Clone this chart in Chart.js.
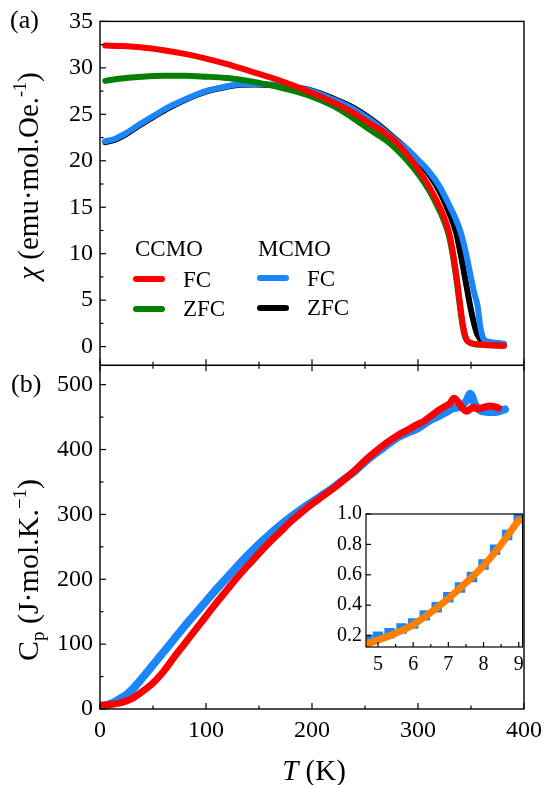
<!DOCTYPE html>
<html><head><meta charset="utf-8">
<script src="https://cdn.jsdelivr.net/npm/chart.js@4"></script>
<style>
html,body{margin:0;padding:0;background:#fff;}
#wrap{position:relative;width:549px;height:785px;overflow:hidden;}
#main{position:absolute;left:0;top:0;}
#inset{position:absolute;left:330px;top:498px;}
</style></head><body>
<div id="wrap"><canvas id="main" width="549" height="785"></canvas><canvas id="inset" width="200" height="180"></canvas></div>
<script>
// ---------- data: magnetic susceptibility (a) ----------
const T_CCMO = [5,20,40,60,80,100,120,140,160,180,200,220,240,255,270,280,290,300,310,318,324,329,333,337,340,342,344,346,350,356,365,375,381];
const CHI_CCMO_FC = [32.4,32.35,32.2,31.9,31.5,31.0,30.4,29.7,29.0,28.2,27.3,26.3,25.1,24.0,22.9,21.9,20.6,19.1,17.3,15.6,14.1,12.4,10.1,7.0,4.3,2.6,1.4,0.75,0.4,0.25,0.18,0.12,0.1];
const CHI_CCMO_ZFC = [28.6,28.85,29.05,29.15,29.15,29.05,28.9,28.6,28.15,27.6,26.9,25.9,24.5,23.3,22.2,21.2,20.0,18.6,16.9,15.2,13.7,12.0,9.7,6.6,3.9,2.3,1.2,0.68,0.35,0.22,0.16,0.11,0.1];
const T_MCMO_FC = [5,15,25,37,50,65,80,100,115,130,146,160,177,200,220,240,262,280,290,300,310,320,330,335,340,345,349.5,353,356,359,362,366,370,376,381];
const CHI_MCMO_FC = [22.1,22.4,23.0,23.9,24.8,25.8,26.6,27.5,27.9,28.2,28.25,28.2,28.0,27.5,26.6,25.5,23.8,22.1,21.2,20.1,18.9,17.3,15.1,13.9,12.4,10.2,7.7,5.8,4.5,2.0,0.8,0.55,0.46,0.38,0.3];
const T_MCMO_ZFC = [5,15,25,37,50,65,80,100,115,130,146,160,177,200,220,240,262,280,290,300,310,320,328,335.7,340,345,348,351,354,356,360.5,366,375,381];
const CHI_MCMO_ZFC = [22.0,22.3,22.9,23.8,24.7,25.7,26.55,27.45,27.85,28.15,28.2,28.15,28.0,27.55,26.7,25.65,23.95,22.2,21.2,20.0,18.6,16.8,14.8,12.4,10.1,7.0,5.1,3.4,2.0,1.3,0.6,0.4,0.3,0.25];

// ---------- data: specific heat (b) ----------
const T_CP_CCMO = [2,10,20,30,40,50,60,70,80,90,100,110,120,130,140,150,160,170,180,190,200,210,220,230,240,250,260,270,280,290,300,305,310,315,320,325,330,334,337,340,343,346,349,352,356,360,364,368,372,376];
const CP_CCMO = [6,7,10,16,27,40,58,80,101,122,143,164,184,204,222,240,257,273,289,303,316,328,340,353,367,383,397,410,421,430,439,443,449,455,461,466,471,479,475,468,462,459,462,465,463,464,466,467,466,464];
const T_CP_MCMO = [2,10,18,25,31,40,50,60,70,80,90,100,110,120,130,140,150,160,170,180,190,200,210,220,230,240,250,260,270,280,290,300,310,320,326,332,338,343,346,349,351,353,356,360,366,373,378,382];
const CP_MCMO = [4,8,15,22,31,48,68,88,108,128,147,166,185,203,221,238,254,269,283,296,308,319,330,341,354,366,381,394,406,418,426,433,444,452,457,463,465,470,476,486,482,472,464,459,458,458,460,462];

// ---------- inset: low-T specific heat ----------
const INSET_T = [4.7,5.0,5.33,5.67,6.0,6.33,6.67,7.0,7.33,7.67,8.0,8.33,8.67,9.0];
const INSET_CP = [0.172,0.193,0.215,0.247,0.280,0.333,0.387,0.452,0.517,0.586,0.668,0.765,0.862,0.974];
const FIT_T = [4.66,5.0,5.5,6.0,6.5,7.0,7.5,8.0,8.5,9.0];
const FIT_CP = [0.144,0.17,0.215,0.272,0.352,0.445,0.548,0.66,0.8,0.96];

// ---------- ticks ----------
const X_MAJOR = [0,100,200,300,400];
const X_MINOR = [50,150,250,350];
const CHI_MAJOR = [0,5,10,15,20,25,30,35];
const CHI_MINOR = [2.5,7.5,12.5,17.5,22.5,27.5,32.5];
const CP_MAJOR = [0,100,200,300,400,500];
const CP_MINOR = [50,150,250,350,450];
const INSET_X_MAJOR = [5,6,7,8,9];
const INSET_X_MINOR = [5.5,6.5,7.5,8.5];
const INSET_Y_MAJOR = [0.2,0.4,0.6,0.8,1.0];

const RED = '#FF0000', GREEN = '#008000', BLUE = '#1A86FA', BLACK = '#000000', ORANGE = '#FF8000';
const FAM = '"Liberation Serif", "Times New Roman", serif';
const F = (s, st) => (st ? st + ' ' : '') + s + 'px ' + FAM;

Chart.defaults.font.family = FAM;
Chart.defaults.color = '#000';

const pts = (xs, ys) => xs.map((x, i) => ({x: x, y: ys[i]}));
function ds(xs, ys, color, axis, w, order) {
  return {data: pts(xs, ys), borderColor: color, backgroundColor: color, yAxisID: axis,
    borderWidth: w, pointRadius: 0, cubicInterpolationMode: 'monotone',
    borderCapStyle: 'round', borderJoinStyle: 'round', order: order};
}

function richText(ctx, parts, cx, cy, rot) {
  ctx.save();
  ctx.translate(cx, cy);
  if (rot) ctx.rotate(rot);
  let w = 0;
  parts.forEach(p => { ctx.font = p.f; p.w = ctx.measureText(p.t).width; w += p.w; });
  let x = -w / 2;
  ctx.textBaseline = 'alphabetic'; ctx.textAlign = 'left'; ctx.fillStyle = '#000';
  parts.forEach(p => { ctx.font = p.f; ctx.fillText(p.t, x, p.dy || 0); x += p.w; });
  ctx.restore();
}
function seg(ctx, x1, y1, x2, y2) { ctx.beginPath(); ctx.moveTo(x1, y1); ctx.lineTo(x2, y2); ctx.stroke(); }

const framePlugin = {
  id: 'frame',
  afterDatasetsDraw(chart) {
    const ctx = chart.ctx, a = chart.chartArea;
    const xs = chart.scales.x, yc = chart.scales.yChi, yp = chart.scales.yCp;
    const div = yc.bottom;
    ctx.save();
    ctx.strokeStyle = '#000'; ctx.lineWidth = 1.4; ctx.lineCap = 'butt';
    ctx.strokeRect(a.left, a.top, a.right - a.left, a.bottom - a.top);
    seg(ctx, a.left, div, a.right, div);
    ctx.lineWidth = 1.2;
    const MJ = 6, MN = 3.5;
    X_MAJOR.forEach(v => { const p = xs.getPixelForValue(v); seg(ctx, p, a.bottom, p, a.bottom - MJ); seg(ctx, p, div - MJ, p, div + MJ); });
    X_MINOR.forEach(v => { const p = xs.getPixelForValue(v); seg(ctx, p, a.bottom, p, a.bottom - MN); seg(ctx, p, div - MN, p, div + MN); });
    CHI_MAJOR.forEach(v => { const p = yc.getPixelForValue(v); seg(ctx, a.left, p, a.left + MJ, p); });
    CHI_MINOR.forEach(v => { const p = yc.getPixelForValue(v); seg(ctx, a.left, p, a.left + MN, p); });
    CP_MAJOR.forEach(v => { const p = yp.getPixelForValue(v); seg(ctx, a.left, p, a.left + MJ, p); });
    CP_MINOR.forEach(v => { const p = yp.getPixelForValue(v); seg(ctx, a.left, p, a.left + MN, p); });
    ctx.restore();
  },
  afterDraw(chart) {
    const ctx = chart.ctx;
    ctx.save();
    // panel labels
    ctx.fillStyle = '#000'; ctx.textAlign = 'left'; ctx.textBaseline = 'middle';
    ctx.font = F(26); ctx.fillText('(a)', 10, 21); ctx.fillText('(b)', 11, 385);
    // legend
    ctx.font = F(23);
    ctx.fillText('CCMO', 135, 250); ctx.fillText('MCMO', 258, 250);
    ctx.fillText('FC', 183, 281); ctx.fillText('ZFC', 183, 310);
    ctx.fillText('FC', 307, 280); ctx.fillText('ZFC', 307, 309);
    ctx.lineWidth = 6; ctx.lineCap = 'round';
    [[RED, 136, 162, 279], [GREEN, 136, 162, 309], [BLUE, 260, 286, 278], [BLACK, 260, 286, 308]].forEach(l => {
      ctx.strokeStyle = l[0]; seg(ctx, l[1], l[3], l[2], l[3]);
    });
    ctx.restore();
    // axis titles
    richText(ctx, [{t: 'χ', f: F(29, 'italic')}, {t: ' (emu·mol.Oe.', f: F(29)}, {t: '-1', f: F(18), dy: -12}, {t: ')', f: F(29)}], 38, 176, -Math.PI / 2);
    richText(ctx, [{t: 'C', f: F(30)}, {t: 'p', f: F(19), dy: 6}, {t: ' (J·mol.K.', f: F(30)}, {t: '−1', f: F(19), dy: -12}, {t: ')', f: F(30)}], 38, 570, -Math.PI / 2);
    richText(ctx, [{t: 'T', f: F(29, 'italic')}, {t: ' (K)', f: F(29)}], 314, 780, 0);
  }
};

const tickLabels = arr => (s => { s.ticks = arr.map(v => ({value: v})); });

new Chart(document.getElementById('main'), {
  type: 'line',
  data: {datasets: [
    ds(T_CCMO, CHI_CCMO_FC, RED, 'yChi', 6, 1),
    ds(T_CCMO, CHI_CCMO_ZFC, GREEN, 'yChi', 6, 2),
    ds(T_MCMO_FC, CHI_MCMO_FC, BLUE, 'yChi', 6, 3),
    ds(T_MCMO_ZFC, CHI_MCMO_ZFC, BLACK, 'yChi', 6, 4),
    ds(T_CP_CCMO, CP_CCMO, RED, 'yCp', 7, 1),
    ds(T_CP_MCMO, CP_MCMO, BLUE, 'yCp', 8, 2)
  ]},
  options: {
    responsive: false, animation: false, devicePixelRatio: 1,
    layout: {padding: {top: 20, right: 20, left: 0, bottom: 0}},
    plugins: {legend: {display: false}, tooltip: {enabled: false}},
    scales: {
      x: {type: 'linear', min: 0, max: 400, grid: {display: false, drawTicks: false}, border: {display: false},
        afterBuildTicks: tickLabels(X_MAJOR), afterFit: s => { s.height = 76; },
        ticks: {font: {size: 24}, padding: 7, maxRotation: 0, autoSkip: false, callback: v => String(v)}},
      yCp: {type: 'linear', position: 'left', stack: 'panels', stackWeight: 1, offset: false, min: 0, max: 530,
        grid: {display: false, drawTicks: false}, border: {display: false},
        afterBuildTicks: tickLabels(CP_MAJOR), afterFit: s => { s.width = 100; },
        ticks: {font: {size: 24}, padding: 7, autoSkip: false, callback: v => String(v)}},
      yChi: {type: 'linear', position: 'left', stack: 'panels', stackWeight: 1, offset: false, min: -2, max: 35,
        grid: {display: false, drawTicks: false}, border: {display: false},
        afterBuildTicks: tickLabels(CHI_MAJOR), afterFit: s => { s.width = 100; },
        ticks: {font: {size: 24}, padding: 7, autoSkip: false, callback: v => String(v)}}
    }
  },
  plugins: [framePlugin]
});

// ---------- inset ----------
const insetPlugin = {
  id: 'insetFrame',
  beforeDatasetsDraw(chart) {
    const ctx = chart.ctx, a = chart.chartArea;
    ctx.save(); ctx.fillStyle = '#fff'; ctx.fillRect(a.left, a.top, a.right - a.left, a.bottom - a.top); ctx.restore();
  },
  afterDatasetsDraw(chart) {
    const ctx = chart.ctx, a = chart.chartArea, xs = chart.scales.x, ys = chart.scales.y;
    ctx.save();
    ctx.strokeStyle = '#000'; ctx.lineWidth = 1.2;
    ctx.strokeRect(a.left, a.top, a.right - a.left, a.bottom - a.top);
    INSET_X_MAJOR.forEach(v => { const p = xs.getPixelForValue(v); seg(ctx, p, a.bottom, p, a.bottom - 5); });
    INSET_X_MINOR.forEach(v => { const p = xs.getPixelForValue(v); seg(ctx, p, a.bottom, p, a.bottom - 3); });
    INSET_Y_MAJOR.forEach(v => { const p = ys.getPixelForValue(v); seg(ctx, a.left, p, a.left + 5, p); });
    ctx.restore();
  }
};

new Chart(document.getElementById('inset'), {
  type: 'scatter',
  data: {datasets: [
    {data: pts(FIT_T, FIT_CP), showLine: true, borderColor: ORANGE, borderWidth: 7, pointRadius: 0,
      cubicInterpolationMode: 'monotone', borderCapStyle: 'round', order: 1},
    {data: pts(INSET_T, INSET_CP), showLine: false, pointStyle: 'rect', pointRadius: 7.4,
      backgroundColor: BLUE, borderWidth: 0, order: 2}
  ]},
  options: {
    responsive: false, animation: false, devicePixelRatio: 1,
    layout: {padding: {top: 14, right: 5, left: 0, bottom: 0}},
    plugins: {legend: {display: false}, tooltip: {enabled: false}},
    scales: {
      x: {type: 'linear', min: 4.66, max: 9.11, grid: {display: false, drawTicks: false}, border: {display: false},
        afterBuildTicks: tickLabels(INSET_X_MAJOR), afterFit: s => { s.height = 31; },
        ticks: {font: {size: 20}, padding: 6, maxRotation: 0, autoSkip: false, callback: v => String(v)}},
      y: {type: 'linear', min: 0.125, max: 1.0, grid: {display: false, drawTicks: false}, border: {display: false},
        afterBuildTicks: tickLabels(INSET_Y_MAJOR), afterFit: s => { s.width = 36; },
        ticks: {font: {size: 20}, padding: 4, autoSkip: false, callback: v => v.toFixed(1)}}
    }
  },
  plugins: [insetPlugin]
});
</script>
</body></html>
